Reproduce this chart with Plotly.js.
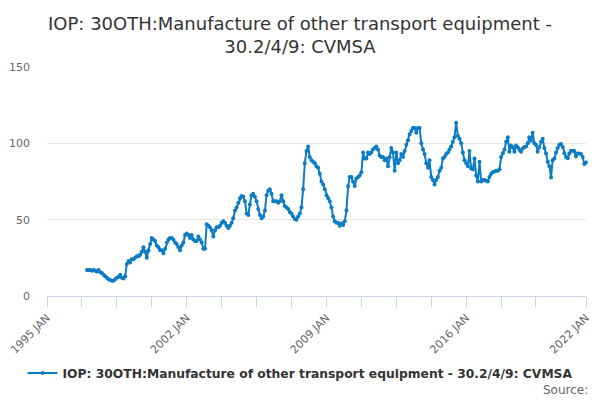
<!DOCTYPE html>
<html>
<head>
<meta charset="utf-8">
<script src="https://cdn.plot.ly/plotly-3.0.1.min.js"></script>
<style>
  html, body { margin: 0; padding: 0; background: #fff; }
  #chart { width: 600px; height: 400px; }
</style>
</head>
<body>
<div id="chart"></div>
<script>
// =========================
// DATA (monthly index values)
// =========================
const seriesName = "IOP: 30OTH:Manufacture of other transport equipment - 30.2/4/9: CVMSA";
const startYear = 1997;

const v1997 = [17, 17, 17, 16.5, 17, 16.5, 16, 17, 15.5, 15, 14, 13];
const v1998 = [12, 11, 10.5, 10, 10, 11, 12, 12.5, 14, 12, 11.5, 13];
const v1999 = [21, 23, 22, 24, 24, 25, 26, 26, 27, 29, 32, 29];
const v2000 = [25, 30, 34, 38, 37, 36, 33, 32, 30, 30, 28, 31];
const v2001 = [35, 37, 38, 38, 37, 35, 34, 32, 30, 33, 35, 40];
const v2002 = [41, 40, 38, 40, 37, 36, 36, 39, 37, 35, 31, 31];
const v2003 = [47, 46, 45, 43, 39, 43, 45, 45, 46, 48, 49, 48];
const v2004 = [46, 44.5, 46, 48, 51, 56, 58, 61, 64, 65.5, 65, 62];
const v2005 = [54, 53, 60, 66, 67, 65, 62, 57, 53, 51, 52, 56];
const v2006 = [66, 69, 70, 67, 62, 62, 62, 61, 62, 66, 62, 59];
const v2007 = [58, 57, 55, 54, 52, 50.5, 50, 52, 54, 58, 70, 87];
const v2008 = [95, 98, 91, 89, 88, 87, 85, 84, 80, 75, 73, 70];
const v2009 = [66, 64, 62, 58, 52, 49, 48, 48, 46, 47.5, 46.5, 49];
const v2010 = [56, 72, 78, 78, 75, 72, 77, 78, 79, 81, 94, 90];
const v2011 = [90, 94, 93, 94, 96, 97, 98, 96, 92, 91, 91, 89];
const v2012 = [90, 85, 91, 97, 94, 82, 94, 87, 89, 93, 91, 95];
const v2013 = [99, 102, 106, 108, 110, 110, 107, 110, 110, 100, 96, 93];
const v2014 = [87, 84, 89, 78, 76, 73, 76, 78, 82, 84, 90, 91];
const v2015 = [93, 94, 96, 98, 101, 104, 113.5, 105, 103, 100, 94, 89];
const v2016 = [87, 85, 95, 83.5, 83, 90, 79, 75, 88, 75, 76, 76];
const v2017 = [75.5, 75, 78, 80, 81, 81.5, 82, 82, 83, 91, 93.5, 96];
const v2018 = [101, 104, 94.5, 98.5, 97.5, 94.5, 98.5, 97.5, 95.6, 94.5, 96.6, 97.6];
const v2019 = [98, 100, 104, 101.7, 107, 100, 99, 94.5, 97.6, 101, 103, 97];
const v2020 = [93.4, 88, 85, 77.7, 89, 90, 94, 97, 99, 99.5, 97.6, 93.5];
const v2021 = [91, 90.2, 93.4, 95.2, 95.2, 95, 91.3, 93.4, 93.4, 93, 91, 86.5];
const v2022 = [87.5];

const tickDates = ["1995-01-01", "1996-10-01", "1998-07-01", "2000-04-01", "2002-01-01",
                   "2003-10-01", "2005-07-01", "2007-04-01", "2009-01-01", "2010-10-01",
                   "2012-07-01", "2014-04-01", "2016-01-01", "2017-10-01", "2019-07-01",
                   "2022-01-01"];
const tickLabels = ["1995 JAN", "", "", "", "2002 JAN", "", "", "", "2009 JAN", "", "", "",
                    "2016 JAN", "", "", "2022 JAN"];

// =========================
// BUILD MONTHLY SERIES
// =========================
const yearly = [v1997, v1998, v1999, v2000, v2001, v2002, v2003, v2004, v2005, v2006,
                v2007, v2008, v2009, v2010, v2011, v2012, v2013, v2014, v2015, v2016,
                v2017, v2018, v2019, v2020, v2021, v2022];

let xs = [];
let ys = [];
yearly.forEach((vals, i) => {
    vals.forEach((v, m) => {
        let mm = String(m + 1).padStart(2, "0");
        xs.push(`${startYear + i}-${mm}-01`);
        ys.push(v);
    });
});

const blue = "#0c7cc4";

let trace = {
    x: xs,
    y: ys,
    type: "scatter",
    mode: "lines+markers",
    name: seriesName,
    line: { color: blue, width: 2 },
    marker: { color: blue, size: 4 },
    cliponaxis: false
};

let layout = {
    width: 600,
    height: 400,
    margin: { l: 47, r: 14, t: 67, b: 104 },
    paper_bgcolor: "#fff",
    plot_bgcolor: "#fff",
    font: { family: "DejaVu Sans, sans-serif", color: "#666", size: 11 },
    title: {
        text: "IOP: 30OTH:Manufacture of other transport equipment -<br>30.2/4/9: CVMSA",
        font: { size: 18, color: "#333" },
        x: 0.5, xref: "container", xanchor: "center",
        y: 0.925, yref: "container", yanchor: "middle"
    },
    xaxis: {
        type: "date",
        range: ["1995-01-01", "2022-01-01"],
        tickmode: "array",
        tickvals: tickDates,
        ticktext: tickLabels,
        tickangle: -45,
        ticks: "outside",
        ticklen: 10,
        tickcolor: "#ccd6eb",
        showline: true,
        linecolor: "#ccd6eb",
        showgrid: false,
        zeroline: false,
        tickfont: { size: 11, color: "#666" }
    },
    yaxis: {
        range: [0, 150],
        tickvals: [0, 50, 100, 150],
        showgrid: true,
        gridcolor: "#e6e6e6",
        zeroline: false,
        showline: false,
        ticks: "",
        ticklabelstandoff: 16,
        tickfont: { size: 11, color: "#666" }
    },
    showlegend: true,
    legend: {
        orientation: "h",
        x: 0.5, xref: "container", xanchor: "center",
        y: 0.0675, yref: "container", yanchor: "middle",
        font: { size: 12.3, color: "#333", weight: "bold" },
        itemwidth: 30
    },
    annotations: [{
        text: "Source:",
        xref: "paper", yref: "paper",
        x: 1.007, y: -0.41,
        xanchor: "right", yanchor: "middle",
        showarrow: false,
        font: { size: 12, color: "#666" }
    }]
};

Plotly.newPlot("chart", [trace], layout, { displayModeBar: false, staticPlot: true });
</script>
</body>
</html>
